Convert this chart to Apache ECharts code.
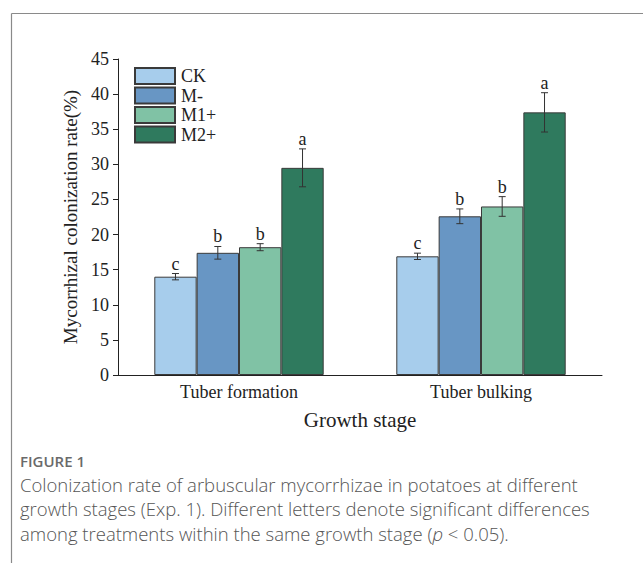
<!DOCTYPE html>
<html>
<head>
<meta charset="utf-8">
<script src="https://cdn.jsdelivr.net/npm/echarts@6/dist/echarts.min.js"></script>
<style>
  html, body { margin: 0; padding: 0; background: #fff; }
  #chart { width: 643px; height: 563px; }
</style>
</head>
<body>
<div id="chart"></div>
<script>
// Growth stages and treatments
const stages = ['Tuber formation', 'Tuber bulking'];
const treatments = ['CK', 'M-', 'M1+', 'M2+'];

// Mean colonization rate (%) per treatment, one value per stage
const ckMean  = [14.0, 16.9];
const mMinus  = [17.4, 22.6];
const m1Plus  = [18.2, 24.0];
const m2Plus  = [29.5, 37.4];

// Standard error per treatment
const ckErr  = [0.45, 0.45];
const mMinusErr = [0.9, 1.05];
const m1PlusErr = [0.5, 1.4];
const m2PlusErr = [2.7, 2.8];

// Significance letters
const ckLetters = ['c', 'c'];
const mMinusLetters = ['b', 'b'];
const m1PlusLetters = ['b', 'b'];
const m2PlusLetters = ['a', 'a'];

// Y axis ticks
const yMin = 0, yMax = 45, yStep = 5;

const colors = ['#a7cdec', '#6896c4', '#80c2a5', '#2f7a5e'];
const means = [ckMean, mMinus, m1Plus, m2Plus];
const errs = [ckErr, mMinusErr, m1PlusErr, m2PlusErr];
const letters = [ckLetters, mMinusLetters, m1PlusLetters, m2PlusLetters];

const serif = '"Liberation Serif", "DejaVu Serif", serif';
const catGap = 0.3;

const barSeries = treatments.map((name, t) => ({
  name: name,
  type: 'bar',
  data: means[t],
  barGap: '0%',
  barCategoryGap: (catGap * 100) + '%',
  itemStyle: { color: colors[t], borderColor: '#3a3a3a', borderWidth: 1 },
  xAxisIndex: 0,
  z: 2
}));

// error bars and letters, one row per bar: [stage, treatment, mean, err, letter]
const errRows = [];
treatments.forEach((name, t) => {
  stages.forEach((s, i) => {
    errRows.push([i, t, means[t][i], errs[t][i], letters[t][i]]);
  });
});

const errorSeries = {
  type: 'custom',
  xAxisIndex: 0,
  z: 5,
  encode: { x: 0, y: 2 },
  data: errRows,
  renderItem: function (params, api) {
    const cat = api.value(0);
    const t = api.value(1);
    const m = api.value(2);
    const e = api.value(3);
    const letter = errRows[params.dataIndex][4];
    const band = api.size([1, 0])[0];
    const bw = band * (1 - catGap) / treatments.length;
    const off = (t - (treatments.length - 1) / 2) * bw;
    const hi = api.coord([cat, m + e]);
    const lo = api.coord([cat, m - e]);
    const x = hi[0] + off;
    const cap = 3.5;
    const style = { stroke: '#333', lineWidth: 1 };
    return {
      type: 'group',
      children: [
        { type: 'line', shape: { x1: x, y1: hi[1], x2: x, y2: lo[1] }, style: style },
        { type: 'line', shape: { x1: x - cap, y1: hi[1], x2: x + cap, y2: hi[1] }, style: style },
        { type: 'line', shape: { x1: x - cap, y1: lo[1], x2: x + cap, y2: lo[1] }, style: style },
        { type: 'text', style: { text: letter, x: x, y: hi[1] - 1, align: 'center', verticalAlign: 'bottom',
            font: '18px ' + serif, fill: '#222' } }
      ]
    };
  }
};

const chart = echarts.init(document.getElementById('chart'), null, { renderer: 'svg' });

const captionFont = '"Open Sans", "Noto Sans", sans-serif';

chart.setOption({
  backgroundColor: '#fff',
  animation: false,
  color: colors,
  grid: { left: 118, right: 41, top: 59, bottom: 188, containLabel: false },
  legend: {
    data: treatments,
    orient: 'vertical',
    left: 134,
    top: 67,
    padding: 0,
    itemWidth: 40,
    itemHeight: 16,
    itemGap: 1.5,
    icon: 'rect',
    textStyle: { fontFamily: serif, fontSize: 18, lineHeight: 16, color: '#222', padding: [0, 0, 0, 1] }
  },
  xAxis: [{
    type: 'category',
    data: stages,
    name: 'Growth stage',
    nameLocation: 'middle',
    nameGap: 34,
    nameTextStyle: { fontFamily: serif, fontSize: 21, color: '#222' },
    axisLine: { lineStyle: { color: '#222', width: 1 } },
    axisTick: { alignWithLabel: true, length: 6, lineStyle: { color: '#222' } },
    axisLabel: { fontFamily: serif, fontSize: 18, color: '#222', margin: 8 }
  }, {
    type: 'category',
    data: stages,
    position: 'bottom',
    axisLine: { show: false },
    axisTick: { length: 3, lineStyle: { color: '#222' } },
    axisLabel: { show: false }
  }],
  yAxis: {
    type: 'value',
    min: yMin,
    max: yMax,
    interval: yStep,
    name: 'Mycorrhizal colonization rate(%)',
    nameLocation: 'middle',
    nameGap: 36,
    nameTextStyle: { fontFamily: serif, fontSize: 19, color: '#222' },
    axisLine: { show: true, lineStyle: { color: '#222', width: 1 } },
    axisTick: { show: true, length: 5, lineStyle: { color: '#222' } },
    axisLabel: { fontFamily: serif, fontSize: 18, color: '#222', margin: 9 },
    splitLine: { show: false }
  },
  graphic: [
    { type: 'line', shape: { x1: 11.5, y1: 13.5, x2: 643, y2: 13.5 }, style: { stroke: '#8a8a8a', lineWidth: 1.2 } },
    { type: 'line', shape: { x1: 11.5, y1: 13.5, x2: 11.5, y2: 563 }, style: { stroke: '#8a8a8a', lineWidth: 1.2 } },
    { type: 'text', left: 20, top: 453, style: { text: 'FIGURE 1', font: '600 15px ' + captionFont, fill: '#6a6a6a' } },
    { type: 'text', left: 20, top: 472, style: {
        text: 'Colonization rate of arbuscular mycorrhizae in potatoes at different\ngrowth stages (Exp. 1). Different letters denote significant differences\namong treatments within the same growth stage ({i|p} < 0.05).',
        font: '300 18.5px ' + captionFont, fill: '#555', lineHeight: 24.5,
        rich: { i: { fontStyle: 'italic', fontFamily: captionFont, fontSize: 18.5, fontWeight: 300, fill: '#555', lineHeight: 24.5 } } } }
  ],
  series: barSeries.concat([errorSeries])
});
</script>
</body>
</html>
